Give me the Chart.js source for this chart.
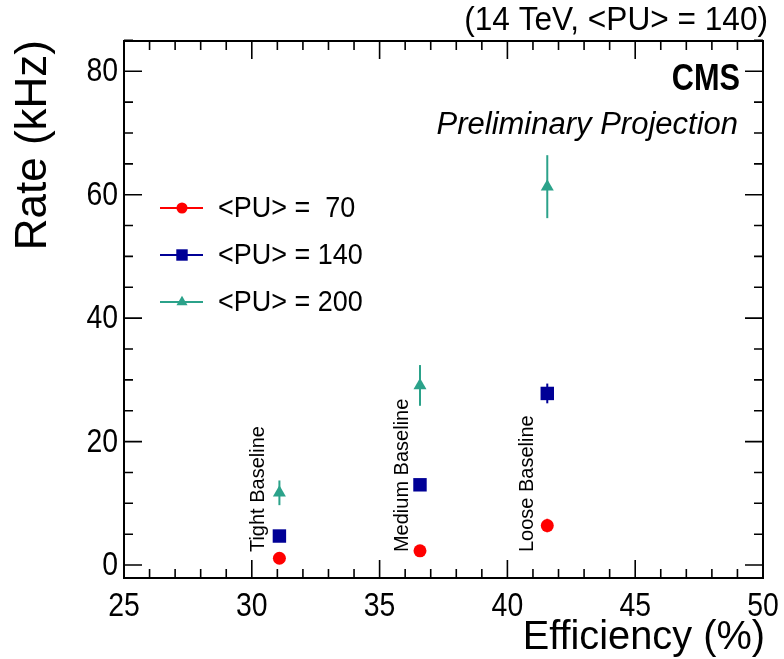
<!DOCTYPE html>
<html>
<head>
<meta charset="utf-8">
<script src="https://cdn.jsdelivr.net/npm/chart.js@4.4.1/dist/chart.umd.min.js"></script>
<style>
  html, body { margin: 0; padding: 0; background: #fff; }
  #wrap { width: 784px; height: 659px; }
</style>
</head>
<body>
<div id="wrap"><canvas id="rateChart" width="784" height="659"></canvas></div>
<script>
// ==========================
// DATA
// ==========================
const effX = [31.08, 36.58, 41.56];
const rate70 = [1.1, 2.3, 6.4];
const err70 = [0.5, 0.6, 1.1];
const rate140 = [4.7, 13.0, 27.8];
const err140 = [0.6, 0.9, 1.6];
const rate200 = [11.7, 29.1, 61.3];
const err200 = [2.0, 3.3, 5.1];
const seriesNames = ['<PU> =  70', '<PU> = 140', '<PU> = 200'];
const wpLabels = ['Tight Baseline', 'Medium Baseline', 'Loose Baseline'];
const wpLabelX = [30.25, 35.9, 40.8];
const wpLabelY = 2.1;
const xTicks = [25, 30, 35, 40, 45, 50];
const yTicks = [0, 20, 40, 60, 80];

const RED = '#ff0000', BLUE = '#000096', TEAL = '#2ba28a';
const FONT = '"Liberation Sans", Arial, Helvetica, sans-serif';

function pts(ys){ return effX.map((x,i)=>({ x, y: ys[i] })); }

// text squeezed horizontally, ROOT/Helvetica look
function narrowText(ctx, txt, x, y, sx){
  ctx.save();
  ctx.translate(x, y);
  ctx.scale(sx, 1);
  ctx.fillText(txt, 0, 0);
  ctx.restore();
}

// ==========================
// PLUGIN: frame, ticks, errors, texts
// ==========================
const rootStyle = {
  id: 'rootStyle',
  beforeDatasetsDraw(chart){
    const ctx = chart.ctx, y = chart.scales.y;
    const errs = [err70, err140, err200];
    ctx.save();
    chart.data.datasets.forEach((ds, d)=>{
      const meta = chart.getDatasetMeta(d);
      ctx.strokeStyle = ds.borderColor;
      ctx.lineWidth = 2;
      meta.data.forEach((el, i)=>{
        const v = ds.data[i].y, e = errs[d][i];
        ctx.beginPath();
        ctx.moveTo(el.x, y.getPixelForValue(v - e));
        ctx.lineTo(el.x, y.getPixelForValue(v + e));
        ctx.stroke();
      });
    });
    ctx.restore();
  },
  afterDraw(chart){
    const ctx = chart.ctx, a = chart.chartArea;
    const xs = chart.scales.x, ys = chart.scales.y;
    ctx.save();
    // frame
    ctx.strokeStyle = '#000';
    ctx.lineWidth = 2;
    ctx.strokeRect(a.left, a.top, a.right - a.left, a.bottom - a.top);
    // ticks inside, all four sides
    ctx.lineWidth = 1.6;
    ctx.beginPath();
    for(let v = 25; v <= 50; v++){
      const px = xs.getPixelForValue(v);
      const len = v % 5 === 0 ? 18 : 9;
      ctx.moveTo(px, a.bottom); ctx.lineTo(px, a.bottom - len);
      ctx.moveTo(px, a.top); ctx.lineTo(px, a.top + len);
    }
    for(let v = 0; v <= 85; v += 5){
      const py = ys.getPixelForValue(v);
      const len = v % 20 === 0 ? 18 : 9;
      ctx.moveTo(a.left, py); ctx.lineTo(a.left + len, py);
      ctx.moveTo(a.right, py); ctx.lineTo(a.right - len, py);
    }
    ctx.stroke();

    ctx.fillStyle = '#000';
    // tick labels
    ctx.font = '33px ' + FONT;
    ctx.textBaseline = 'middle';
    ctx.textAlign = 'right';
    ys.ticks.forEach(t => narrowText(ctx, String(t.value), a.left - 6, ys.getPixelForValue(t.value) + 1, 0.86));
    ctx.textAlign = 'center';
    ctx.textBaseline = 'top';
    xs.ticks.forEach(t => narrowText(ctx, String(t.value), xs.getPixelForValue(t.value), a.bottom + 12, 0.86));

    // header texts
    ctx.textAlign = 'right';
    ctx.textBaseline = 'alphabetic';
    ctx.font = '34px ' + FONT;
    narrowText(ctx, '(14 TeV, <PU> = 140)', 768, 30, 0.93);
    ctx.font = 'bold 37px ' + FONT;
    narrowText(ctx, 'CMS', 740, 90, 0.83);
    ctx.font = 'italic 31px ' + FONT;
    ctx.fillText('Preliminary Projection', 738, 134);

    // axis titles
    ctx.font = '41px ' + FONT;
    narrowText(ctx, 'Efficiency (%)', 765, 649, 0.97);
    ctx.save();
    ctx.translate(46, 40);
    ctx.rotate(-Math.PI/2);
    ctx.font = '44px ' + FONT;
    ctx.fillText('Rate (kHz)', 0, 0);
    ctx.restore();

    // working point labels
    ctx.font = '20px ' + FONT;
    ctx.textAlign = 'left';
    ctx.textBaseline = 'middle';
    wpLabels.forEach((t, i)=>{
      ctx.save();
      ctx.translate(xs.getPixelForValue(wpLabelX[i]), ys.getPixelForValue(wpLabelY));
      ctx.rotate(-Math.PI/2);
      ctx.fillText(t, 0, 0);
      ctx.restore();
    });

    // legend
    const rows = [208, 255, 302];
    chart.data.datasets.forEach((ds, d)=>{
      const ry = rows[d];
      ctx.strokeStyle = ds.borderColor;
      ctx.lineWidth = 2;
      ctx.beginPath(); ctx.moveTo(160, ry); ctx.lineTo(203, ry); ctx.stroke();
      ctx.fillStyle = ds.backgroundColor;
      Chart.helpers.drawPoint(ctx, { pointStyle: ds.pointStyle, radius: ds.pointRadius * 0.85, borderWidth: 0 }, 182, ry);
      ctx.fillStyle = '#000';
      ctx.font = '29px ' + FONT;
      narrowText(ctx, seriesNames[d], 218, ry + 1, 0.93);
    });
    ctx.restore();
  }
};

// ==========================
// CHART
// ==========================
new Chart(document.getElementById('rateChart'), {
  type: 'scatter',
  data: {
    datasets: [
      { label: seriesNames[0], data: pts(rate70), pointStyle: 'circle', pointRadius: 6.5,
        backgroundColor: RED, borderColor: RED, borderWidth: 0 },
      { label: seriesNames[1], data: pts(rate140), pointStyle: 'rect', pointRadius: 9.5,
        backgroundColor: BLUE, borderColor: BLUE, borderWidth: 0 },
      { label: seriesNames[2], data: pts(rate200), pointStyle: 'triangle', pointRadius: 7.5,
        backgroundColor: TEAL, borderColor: TEAL, borderWidth: 0 }
    ]
  },
  options: {
    responsive: false,
    animation: false,
    layout: { padding: { left: 0, right: 21, top: 41, bottom: 0 } },
    plugins: { legend: { display: false }, tooltip: { enabled: false } },
    scales: {
      x: {
        type: 'linear', min: 25, max: 50,
        afterFit(s){ s.height = 81; },
        afterBuildTicks(s){ s.ticks = xTicks.map(v=>({ value: v })); },
        grid: { display: false, drawTicks: false },
        border: { display: false },
        ticks: { display: false }
      },
      y: {
        type: 'linear', min: -2.1, max: 84.9,
        afterFit(s){ s.width = 124; },
        afterBuildTicks(s){ s.ticks = yTicks.map(v=>({ value: v })); },
        grid: { display: false, drawTicks: false },
        border: { display: false },
        ticks: { display: false }
      }
    }
  },
  plugins: [rootStyle]
});
</script>
</body>
</html>
